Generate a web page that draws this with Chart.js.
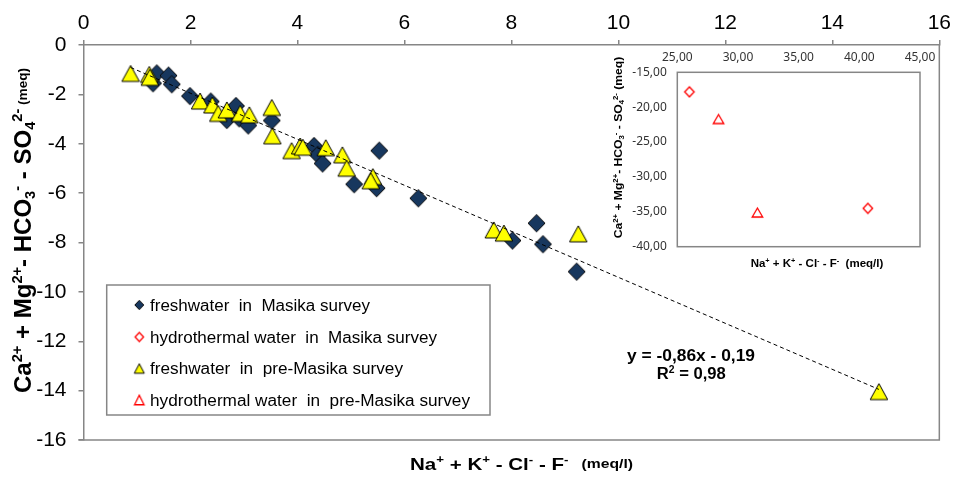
<!DOCTYPE html>
<html>
<head>
<meta charset="utf-8">
<script src="https://cdn.jsdelivr.net/npm/chart.js@4.4.1/dist/chart.umd.min.js"></script>
<style>
  html, body { margin: 0; padding: 0; background: #ffffff; }
  #wrap { position: relative; width: 955px; height: 480px; overflow: hidden; }
  #main { position: absolute; left: 0; top: 0; }
  #inset { position: absolute; left: 600px; top: 40px; }
</style>
</head>
<body>
<div id="wrap">
  <canvas id="main" width="955" height="480"></canvas>
  <canvas id="inset" width="345" height="240"></canvas>
</div>
<script>
// ---- data (meq) ----
const seriesLabels = [
  'freshwater  in  Masika survey',
  'hydrothermal water  in  Masika survey',
  'freshwater  in  pre-Masika survey',
  'hydrothermal water  in  pre-Masika survey'
];

// freshwater, Masika survey
const freshMasikaX = [1.30, 1.37, 1.59, 1.65, 1.99, 2.38, 2.68, 2.85, 2.91, 3.08, 3.52, 4.31, 4.38, 4.47, 5.06, 5.53, 5.48, 6.26, 8.02, 8.47, 8.59, 9.22];
const freshMasikaY = [-1.55, -1.15, -1.24, -1.59, -2.07, -2.29, -3.04, -2.47, -2.97, -3.26, -3.06, -4.09, -4.45, -4.80, -5.64, -4.28, -5.80, -6.21, -7.92, -7.22, -8.07, -9.18];

// freshwater, pre-Masika survey
const freshPreX = [0.88, 1.23, 1.24, 2.18, 2.41, 2.52, 2.68, 2.93, 3.10, 3.52, 3.53, 3.89, 4.05, 4.10, 4.53, 4.84, 4.92, 5.41, 5.37, 7.67, 7.86, 9.25, 14.87];
const freshPreY = [-1.15, -1.19, -1.31, -2.27, -2.43, -2.77, -2.63, -2.77, -2.83, -2.53, -3.68, -4.28, -4.09, -4.14, -4.16, -4.45, -4.99, -5.33, -5.50, -7.49, -7.62, -7.65, -14.04];

// hydrothermal water (shown in the inset)
const hydroMasikaX = [26.0, 40.7];
const hydroMasikaY = [-17.8, -34.5];
const hydroPreX = [28.4, 31.6];
const hydroPreY = [-21.7, -35.1];

// linear trend drawn across the freshwater samples
const trendX = [0.88, 14.87];
const trendY = [-0.91, -13.95];
const trendEquation = 'y = -0,86x - 0,19';
const trendR2 = '0,98';

// axis ranges and tick steps
const mainXTicks = { min: 0, max: 16, step: 2 };
const mainYTicks = { min: -16, max: 0, step: 2 };
const insetXTicks = { min: 25, max: 45, step: 5 };
const insetYTicks = { min: -40, max: -15, step: 5 };

// ---- helpers ----
const SANS = '"Liberation Sans", Arial, sans-serif';
const INSET_SANS = '"Noto Sans", "Open Sans", sans-serif';
const FRAME = '#868686';
const NAVY = '#17375E';
const YELLOW = '#FFFF00';
const RED = '#FF0000';

const zip = (xs, ys) => xs.map((x, i) => ({ x: x, y: ys[i] }));

function marker(shape, w, h, fill, stroke, lw) {
  const pad = 2;
  const c = document.createElement('canvas');
  c.width = Math.round(w) + 2 * pad;
  c.height = Math.round(h) + 2 * pad;
  const g = c.getContext('2d');
  const cx = c.width / 2, cy = c.height / 2;
  g.beginPath();
  if (shape === 'diamond') {
    g.moveTo(cx, cy - h / 2);
    g.lineTo(cx + w / 2, cy);
    g.lineTo(cx, cy + h / 2);
    g.lineTo(cx - w / 2, cy);
  } else {
    g.moveTo(cx, cy - h / 2);
    g.lineTo(cx + w / 2, cy + h / 2);
    g.lineTo(cx - w / 2, cy + h / 2);
  }
  g.closePath();
  if (fill) { g.fillStyle = fill; g.fill(); }
  g.lineWidth = lw;
  g.lineJoin = 'miter';
  g.strokeStyle = stroke;
  g.stroke();
  return c;
}

// text made of runs (normal, superscript, subscript), centred, optionally rotated
function drawRich(ctx, runs, o) {
  ctx.save();
  ctx.translate(o.cx, o.cy);
  if (o.rot) ctx.rotate(o.rot);
  let natural = 0;
  runs.forEach(r => {
    ctx.font = (r.bold === false ? '' : 'bold ') + r.size + 'px ' + o.family;
    natural += ctx.measureText(r.t).width;
  });
  const sx = o.width ? o.width / natural : 1;
  ctx.scale(sx, 1);
  ctx.fillStyle = o.color || '#000';
  ctx.textAlign = 'left';
  ctx.textBaseline = 'alphabetic';
  let x = -natural / 2;
  const base = o.cap * 0.716 / 2;
  runs.forEach(r => {
    ctx.font = (r.bold === false ? '' : 'bold ') + r.size + 'px ' + o.family;
    ctx.fillText(r.t, x, base + (r.dy || 0));
    x += ctx.measureText(r.t).width;
  });
  ctx.restore();
}

function ionRuns(big, small, up, down, unit, unitSize, unitDy) {
  return [
    { t: 'Ca', size: big }, { t: '2+', size: small, dy: up },
    { t: ' + ', size: big },
    { t: 'Mg', size: big }, { t: '2+', size: small, dy: up },
    { t: '- ', size: big },
    { t: 'HCO', size: big }, { t: '3', size: small, dy: down }, { t: '-', size: small, dy: up },
    { t: ' - ', size: big },
    { t: 'SO', size: big }, { t: '4', size: small, dy: down }, { t: '2-', size: small, dy: up },
    { t: unit, size: unitSize, dy: unitDy }
  ];
}
function cationRuns(big, small, up, unit, unitSize, unitDy) {
  return [
    { t: 'Na', size: big }, { t: '+', size: small, dy: up },
    { t: ' + ', size: big },
    { t: 'K', size: big }, { t: '+', size: small, dy: up },
    { t: ' - ', size: big },
    { t: 'Cl', size: big }, { t: '-', size: small, dy: up },
    { t: ' - ', size: big },
    { t: 'F', size: big }, { t: '-', size: small, dy: up },
    { t: unit, size: unitSize, dy: unitDy }
  ];
}

// ---- point styles ----
const ptFreshMasika = marker('diamond', 17, 17.5, NAVY, '#0b0b0b', 1);
const ptFreshPre = marker('triangle', 17.5, 16, YELLOW, '#000', 1);
const ptHydroMasika = marker('diamond', 9.5, 10, '#ffffff', RED, 1.3);
const ptHydroPre = marker('triangle', 10.5, 9, '#ffffff', RED, 1.3);
const legFreshMasika = marker('diamond', 9, 9.5, NAVY, '#0b0b0b', 1);
const legHydroMasika = marker('diamond', 8.5, 9, '#ffffff', RED, 1.3);
const legFreshPre = marker('triangle', 10, 9.5, YELLOW, '#000', 1);
const legHydroPre = marker('triangle', 9.5, 9.5, '#ffffff', RED, 1.3);

// ---- main chart plugins ----
const framePlugin = {
  id: 'frame',
  beforeDatasetsDraw(chart) {
    const a = chart.chartArea, ctx = chart.ctx;
    ctx.save();
    ctx.strokeStyle = FRAME;
    ctx.lineWidth = 1.5;
    ctx.beginPath();
    ctx.moveTo(a.right, a.top);
    ctx.lineTo(a.right, a.bottom);
    ctx.lineTo(a.left - 5, a.bottom);
    ctx.stroke();
    ctx.restore();
  }
};

const legendBox = { left: 106.7, top: 285, right: 490, bottom: 415, markX: 139.3, textX: 150,
  rows: [305, 337, 368.5, 400], widths: [220, 287, 253, 320] };

const annotationPlugin = {
  id: 'annotations',
  afterDraw(chart) {
    const ctx = chart.ctx;
    // axis titles
    drawRich(ctx, ionRuns(23, 14, -9, 4, ' (meq)', 13, -4),
      { cx: 23, cy: 230.5, rot: -Math.PI / 2, width: 325, cap: 23, family: SANS });
    drawRich(ctx, cationRuns(17, 11, -7, '   (meq/l)', 13, -2),
      { cx: 521.5, cy: 464, width: 223, cap: 17, family: SANS });

    // trend equation
    drawRich(ctx, [{ t: trendEquation, size: 16 }],
      { cx: 691, cy: 355, width: 128, cap: 16, family: SANS });
    drawRich(ctx, [{ t: 'R', size: 16 }, { t: '2', size: 10, dy: -6 }, { t: ' = ' + trendR2, size: 16 }],
      { cx: 691.3, cy: 373.3, width: 69, cap: 16, family: SANS });

    // legend
    const L = legendBox;
    ctx.save();
    ctx.fillStyle = '#ffffff';
    ctx.fillRect(L.left, L.top, L.right - L.left, L.bottom - L.top);
    ctx.strokeStyle = FRAME;
    ctx.lineWidth = 1.5;
    ctx.strokeRect(L.left, L.top, L.right - L.left, L.bottom - L.top);
    ctx.restore();
    const legendMarks = [legFreshMasika, legHydroMasika, legFreshPre, legHydroPre];
    seriesLabels.forEach((label, i) => {
      const m = legendMarks[i];
      ctx.drawImage(m, L.markX - m.width / 2, L.rows[i] - m.height / 2);
      drawRich(ctx, [{ t: label, size: 16, bold: false }],
        { cx: L.textX + L.widths[i] / 2, cy: L.rows[i], width: L.widths[i], cap: 16, family: SANS });
    });
  }
};

new Chart(document.getElementById('main'), {
  type: 'scatter',
  data: {
    datasets: [
      { type: 'line', label: 'trend', data: zip(trendX, trendY), borderColor: '#000000', borderWidth: 1,
        borderDash: [4, 3], pointRadius: 0, fill: false, tension: 0, order: 0 },
      { label: seriesLabels[2], data: zip(freshPreX, freshPreY), pointStyle: ptFreshPre, order: 1 },
      { label: seriesLabels[0], data: zip(freshMasikaX, freshMasikaY), pointStyle: ptFreshMasika, order: 2 }
    ]
  },
  options: {
    responsive: false,
    animation: false,
    devicePixelRatio: 1,
    events: [],
    layout: { padding: { left: 0, top: 0, right: 15.5, bottom: 40 } },
    plugins: { legend: { display: false }, tooltip: { enabled: false } },
    scales: {
      x: {
        type: 'linear', position: 'top',
        min: mainXTicks.min, max: mainXTicks.max,
        ticks: { stepSize: mainXTicks.step, color: '#000', padding: 4, font: { family: SANS, size: 21 } },
        grid: { drawOnChartArea: false, drawTicks: true, tickLength: 5, color: FRAME, lineWidth: 1.5 },
        border: { display: true, color: FRAME, width: 1.5 },
        afterFit(s) { s.height = 45; }
      },
      y: {
        type: 'linear', position: 'left',
        min: mainYTicks.min, max: mainYTicks.max,
        ticks: { stepSize: mainYTicks.step, color: '#000', padding: 12, font: { family: SANS, size: 21 } },
        grid: { drawOnChartArea: false, drawTicks: true, tickLength: 5, color: FRAME, lineWidth: 1.5 },
        border: { display: true, color: FRAME, width: 1.5 },
        afterFit(s) { s.width = 83.5; }
      }
    }
  },
  plugins: [framePlugin, annotationPlugin]
});

// ---- inset: hydrothermal water ----
const comma2 = v => v.toFixed(2).replace('.', ',');

const insetPlugin = {
  id: 'insetDecor',
  beforeDatasetsDraw(chart) {
    const a = chart.chartArea, ctx = chart.ctx;
    ctx.save();
    ctx.strokeStyle = FRAME;
    ctx.lineWidth = 1.5;
    ctx.strokeRect(a.left, a.top, a.right - a.left, a.bottom - a.top);
    ctx.restore();
  },
  afterDraw(chart) {
    const ctx = chart.ctx;
    drawRich(ctx, ionRuns(11, 7, -4, 2, ' (meq)', 11, 0),
      { cx: 18, cy: 107.5, rot: -Math.PI / 2, width: 181.6, cap: 11, family: SANS });
    drawRich(ctx, cationRuns(11, 7, -4, '  (meq/l)', 11, 0),
      { cx: 217, cy: 222.7, width: 132.7, cap: 11, family: SANS });
  }
};

new Chart(document.getElementById('inset'), {
  type: 'scatter',
  data: {
    datasets: [
      { label: seriesLabels[1], data: zip(hydroMasikaX, hydroMasikaY), pointStyle: ptHydroMasika },
      { label: seriesLabels[3], data: zip(hydroPreX, hydroPreY), pointStyle: ptHydroPre }
    ]
  },
  options: {
    responsive: false,
    animation: false,
    devicePixelRatio: 1,
    events: [],
    layout: { padding: { left: 0, top: 0, right: 25, bottom: 33.3 } },
    plugins: { legend: { display: false }, tooltip: { enabled: false } },
    scales: {
      x: {
        type: 'linear', position: 'top',
        min: insetXTicks.min, max: insetXTicks.max,
        ticks: { stepSize: insetXTicks.step, color: '#333', padding: 8, callback: comma2,
                 font: { family: INSET_SANS, size: 12 } },
        grid: { display: false, drawTicks: false },
        border: { display: false },
        afterFit(s) { s.height = 32.3; }
      },
      y: {
        type: 'linear', position: 'left',
        min: insetYTicks.min, max: insetYTicks.max,
        ticks: { stepSize: insetYTicks.step, color: '#333', padding: 10.5, callback: comma2,
                 font: { family: INSET_SANS, size: 12 } },
        grid: { display: false, drawTicks: false },
        border: { display: false },
        afterFit(s) { s.width = 77.3; }
      }
    }
  },
  plugins: [insetPlugin]
});
</script>
</body>
</html>
